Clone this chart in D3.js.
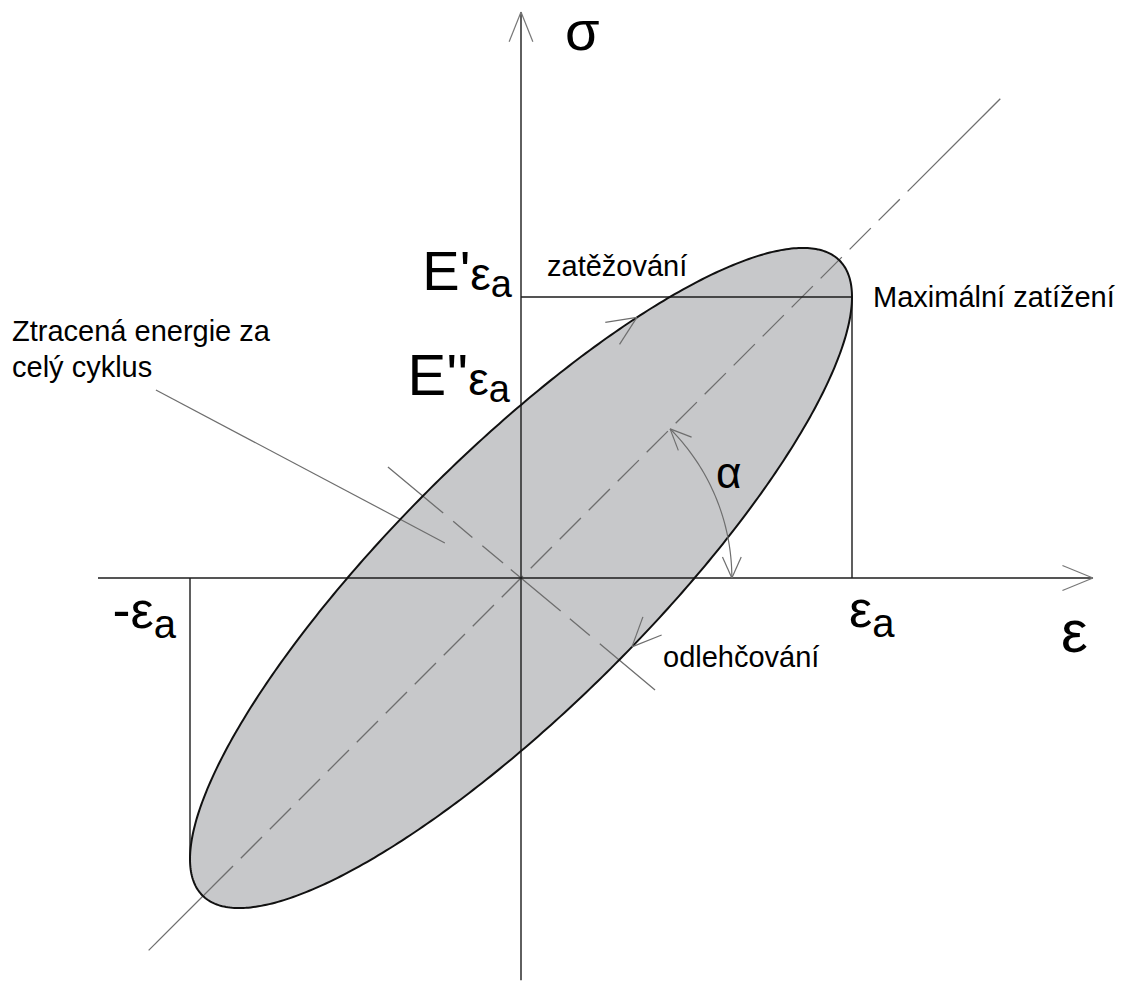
<!DOCTYPE html>
<html>
<head>
<meta charset="utf-8">
<script src="https://cdn.jsdelivr.net/npm/d3@7"></script>
<style>
  body { margin: 0; background: #fff; }
  svg { display: block; }
  text { font-family: "Liberation Sans", Arial, sans-serif; fill: #000; }
</style>
</head>
<body>
<svg id="chart" width="1121" height="983"></svg>
<script>
// Harmonic loading of a viscoelastic material: ε = εa·cos φ, σ = εa·(E'·cos φ − E''·sin φ)
const strainAmplitude = 1;            // εa
const storageModulus = 0.849;         // E'
const lossModulus = 0.523;            // E''
const strainAxisExtent = [-1.278, 1.728];
const stressAxisExtent = [-1.215, 1.710];
const principalAxisExtent = [-1.125, 1.448];     // along σ = ε
const principalTipLength = [0.255, 0.264];       // solid ends of the principal axis (in ε units)
const minorAxisExtent = [-0.402, 0.405];         // ε range of the perpendicular axis
const minorAxisSlope = -0.835;
const phaseArcRadius = 0.637;
const loadingPhases = [-1.213, 1.229];           // zatěžování, odlehčování
const leaderLine = [[-1.103, 0.568], [-0.230, 0.106]];

const axisLabels = { stress: "σ", strain: "ε", angle: "α" };
const branchLabels = ["zatěžování", "odlehčování"];
const peakLabel = "Maximální zatížení";
const lossLabel = ["Ztracená energie za", "celý cyklus"];

const svg = d3.select("#chart");
const x = d3.scaleLinear().domain([-1, 1]).range([190, 852]);
const unit = x(1) - x(0);
const y = d3.scaleLinear().domain([0, 1]).range([578, 578 - unit]);

const loop = (phi) => [strainAmplitude * Math.cos(phi),
  strainAmplitude * (storageModulus * Math.cos(phi) - lossModulus * Math.sin(phi))];
const line = d3.line().x(d => x(d[0])).y(d => y(d[1]));

// open arrowhead: two barbs behind the tip, pointing along (dx, dy) in screen space
function arrowHead(g, tx, ty, dx, dy, len, half, color, width) {
  const a = Math.atan2(dy, dx);
  [a + Math.PI - half, a + Math.PI + half].forEach(b => {
    g.append("line").attr("x1", tx).attr("y1", ty)
      .attr("x2", tx + len * Math.cos(b)).attr("y2", ty + len * Math.sin(b))
      .attr("stroke", color).attr("stroke-width", width);
  });
}

// hysteresis loop
const phases = d3.range(0, 2 * Math.PI, Math.PI / 240);
const loopPath = d3.line().x(d => x(d[0])).y(d => y(d[1])).curve(d3.curveLinearClosed)(phases.map(loop));
svg.append("path").attr("d", loopPath).attr("fill", "#c7c8ca").attr("stroke", "none");

// principal axis σ = ε: solid ends, dashed middle
const [pa0, pa1] = principalAxisExtent;
const gray = "#6e6e6e";
svg.append("path").attr("d", line([[pa0, pa0], [pa0 + principalTipLength[0], pa0 + principalTipLength[0]]]))
  .attr("stroke", gray).attr("stroke-width", 1.3);
svg.append("path").attr("d", line([[pa1 - principalTipLength[1], pa1 - principalTipLength[1]], [pa1, pa1]]))
  .attr("stroke", gray).attr("stroke-width", 1.3);
svg.append("path").attr("d", line([[pa0 + principalTipLength[0], pa0 + principalTipLength[0]],
                                  [pa1 - principalTipLength[1], pa1 - principalTipLength[1]]]))
  .attr("stroke", gray).attr("stroke-width", 1.3)
  .attr("stroke-dasharray", "30,11").attr("stroke-dashoffset", -11);

// perpendicular axis through the origin
svg.append("path")
  .attr("d", line(minorAxisExtent.map(e => [e, e * minorAxisSlope])))
  .attr("stroke", gray).attr("stroke-width", 1.3)
  .attr("stroke-dasharray", "72,13,25,13,27,10,65,12,26,13,80");

// leader from the loss label
svg.append("path").attr("d", line(leaderLine)).attr("stroke", gray).attr("stroke-width", 1.2);

// axes
const axisColor = "#1c1c1c";
svg.append("line").attr("x1", x(strainAxisExtent[0])).attr("x2", x(strainAxisExtent[1]))
  .attr("y1", y(0)).attr("y2", y(0)).attr("stroke", axisColor).attr("stroke-width", 1.4);
svg.append("line").attr("x1", x(0)).attr("x2", x(0))
  .attr("y1", y(stressAxisExtent[0])).attr("y2", y(stressAxisExtent[1]))
  .attr("stroke", axisColor).attr("stroke-width", 1.4);
arrowHead(svg, x(strainAxisExtent[1]), y(0), 1, 0, 33, 0.39, "#777", 1.2);
arrowHead(svg, x(0), y(stressAxisExtent[1]), 0, -1, 32, 0.38, "#777", 1.2);

// E'εa and ±εa reference lines
const peakStress = storageModulus * strainAmplitude;
svg.append("path").attr("d", line([[0, peakStress], [strainAmplitude, peakStress], [strainAmplitude, 0]]))
  .attr("fill", "none").attr("stroke", axisColor).attr("stroke-width", 1.4);
svg.append("path").attr("d", line([[-strainAmplitude, 0], [-strainAmplitude, -peakStress]]))
  .attr("fill", "none").attr("stroke", axisColor).attr("stroke-width", 1.4);

// loop outline on top
svg.append("path").attr("d", loopPath).attr("fill", "none").attr("stroke", "#111").attr("stroke-width", 2);

// direction arrows on the loop (phase increases along the cycle)
loadingPhases.forEach(phi => {
  const p = loop(phi), q = loop(phi + 0.01);
  arrowHead(svg, x(p[0]), y(p[1]), x(q[0]) - x(p[0]), y(q[1]) - y(p[1]), 32, 0.42, gray, 1.2);
});

// phase angle arc α between ε axis and principal axis
const arcPts = d3.range(0, Math.PI / 4 + 1e-9, Math.PI / 180)
  .map(t => [phaseArcRadius * Math.cos(t), phaseArcRadius * Math.sin(t)]);
svg.append("path").attr("d", line(arcPts)).attr("fill", "none").attr("stroke", gray).attr("stroke-width", 1.2);
{
  const r = phaseArcRadius, t1 = Math.PI / 4;
  arrowHead(svg, x(r), y(0), 0, 1, 23, 0.42, gray, 1.2);
  arrowHead(svg, x(r * Math.cos(t1)), y(r * Math.sin(t1)), -Math.sin(t1), -Math.cos(t1), 23, 0.42, gray, 1.2);
}

// labels
function subLabel(px, py, anchor, main, mainSize, sym, symSize, subSize, subShift) {
  const t = svg.append("text").attr("x", px).attr("y", py).attr("text-anchor", anchor);
  if (main) t.append("tspan").attr("font-size", mainSize).text(main);
  t.append("tspan").attr("font-size", symSize).text(sym);
  t.append("tspan").attr("font-size", subSize).attr("dy", subShift).text("a");
  return t;
}
subLabel(x(0) - 9, y(peakStress) - 7, "end", "E'", 56, "ε", 46, 38, 7);
subLabel(x(0) - 11, y(lossModulus * strainAmplitude) - 10, "end", "E''", 58, "ε", 46, 38, 7);
subLabel(x(-strainAmplitude) - 14, y(0) + 50, "end", "-", 54, "ε", 52, 40, 10);
subLabel(x(strainAmplitude) - 3, y(0) + 49, "start", null, 0, "ε", 52, 40, 10);

svg.append("text").attr("x", x(0) + 44).attr("y", 50).attr("font-size", 56).text(axisLabels.stress);
svg.append("text").attr("x", 1061).attr("y", y(0) + 74).attr("font-size", 60).text(axisLabels.strain);
svg.append("text").attr("x", 716).attr("y", 488).attr("font-size", 44).text(axisLabels.angle);

const small = 29;
svg.append("text").attr("x", 547).attr("y", 276).attr("font-size", small).text(branchLabels[0]);
svg.append("text").attr("x", 663).attr("y", 667).attr("font-size", small).text(branchLabels[1]);
svg.append("text").attr("x", 873).attr("y", 307).attr("font-size", small).text(peakLabel);
svg.append("text").attr("x", 12).attr("y", 341).attr("font-size", small).text(lossLabel[0]);
svg.append("text").attr("x", 12).attr("y", 377).attr("font-size", small).text(lossLabel[1]);
</script>
</body>
</html>
